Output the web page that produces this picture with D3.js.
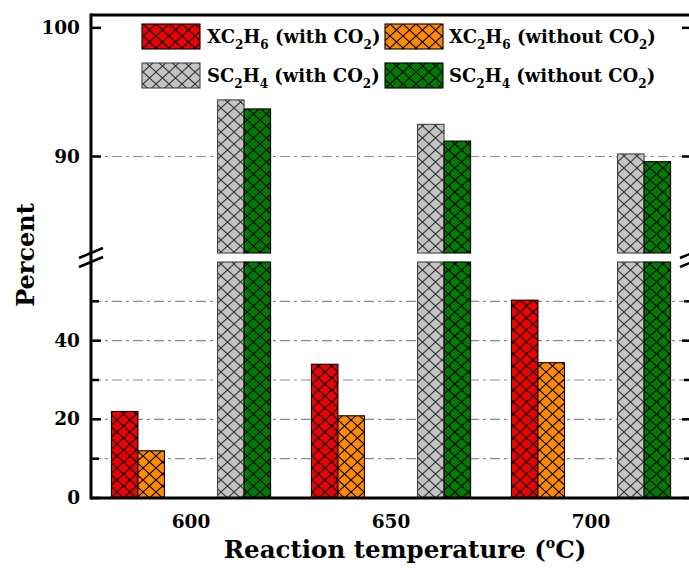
<!DOCTYPE html>
<html>
<head>
<meta charset="utf-8">
<script src="https://cdn.jsdelivr.net/npm/d3@7"></script>
<style>
  body { margin: 0; background: #fff; }
  svg { display: block; }
  text { font-family: "DejaVu Serif", serif; font-weight: bold; fill: #000; }
</style>
</head>
<body>
<script>
// Reaction temperature categories (°C)
var temps = ['600', '650', '700'];

// Series values (percent)
var xWithCO2    = [22.0, 34.0, 50.3];
var xWithoutCO2 = [12.0, 20.9, 34.4];
var sWithCO2    = [94.4, 92.5, 90.2];
var sWithoutCO2 = [93.7, 91.2, 89.6];

// Tick values for the two parts of the broken axis
var lowerTicks = [0, 10, 20, 30, 40, 50];
var lowerLabels = [0, 20, 40];
var upperTicks = [90, 100];
var lowerGrid = [10, 20, 30, 40, 50];
var upperGrid = [90];

// Series definitions (sub slot, colour, legend label pieces)
var seriesKeys = ['xw', 'xwo', 'gap1', 'gap2', 'sw', 'swo'];
var series = [
  { key: 'xw',  values: xWithCO2,    fill: '#ee0000', hatch: '#000',
    label: [['XC'], ['2', 'sub'], ['H'], ['6', 'sub'], [' (with CO'], ['2', 'sub'], [')']] },
  { key: 'xwo', values: xWithoutCO2, fill: '#ff8a00', hatch: '#000',
    label: [['XC'], ['2', 'sub'], ['H'], ['6', 'sub'], [' (without CO'], ['2', 'sub'], [')']] },
  { key: 'sw',  values: sWithCO2,    fill: '#c3c3c3', hatch: '#333',
    label: [['SC'], ['2', 'sub'], ['H'], ['4', 'sub'], [' (with CO'], ['2', 'sub'], [')']] },
  { key: 'swo', values: sWithoutCO2, fill: '#007a00', hatch: '#000',
    label: [['SC'], ['2', 'sub'], ['H'], ['4', 'sub'], ['  (without CO'], ['2', 'sub'], [')']] }
];

var width = 689, height = 570;
var plot = { left: 91, right: 691, top: 15, bottom: 498 };
var breakLow = 262, breakHigh = 253; // pixel edges of the axis break

var svg = d3.select('body').append('svg')
  .attr('width', width)
  .attr('height', height);

// Scales
var x = d3.scaleBand().domain(temps).range([plot.left, plot.right]);
var xs = d3.scaleBand().domain(seriesKeys).range([0, x.bandwidth()]).paddingOuter(0.77);
var yLow = d3.scaleLinear().domain([0, 60]).range([plot.bottom, breakLow]);
var yHigh = d3.scaleLinear().domain([82.5, 101]).range([breakHigh, plot.top]);

// Hatch patterns (crosshatch)
var pw = 13, ph = 12;
var defs = svg.append('defs');
series.forEach(s => {
  let p = defs.append('pattern')
    .attr('id', 'hatch-' + s.key)
    .attr('patternUnits', 'userSpaceOnUse')
    .attr('width', pw).attr('height', ph);
  p.append('rect').attr('width', pw).attr('height', ph).attr('fill', s.fill);
  p.append('path')
    .attr('d', 'M0,0L' + pw + ',' + ph + 'M' + pw + ',0L0,' + ph)
    .attr('stroke', s.hatch)
    .attr('stroke-width', 1.1);
});

// Gridlines (dash-dot)
var gridG = svg.append('g');
function gridLine(y) {
  gridG.append('line')
    .attr('x1', plot.left).attr('x2', plot.right)
    .attr('y1', y).attr('y2', y)
    .attr('stroke', '#8a8a8a')
    .attr('stroke-width', 1.2)
    .attr('stroke-dasharray', '10,4,3,4');
}
lowerGrid.forEach(v => gridLine(yLow(v)));
upperGrid.forEach(v => gridLine(yHigh(v)));

// Bars
var barG = svg.append('g');
series.forEach(s => {
  s.values.forEach((v, i) => {
    let bx = x(temps[i]) + xs(s.key);
    let bw = xs.bandwidth();
    let stroke = s.key == 'sw' ? '#444' : '#000';
    if (v <= 60) {
      barG.append('rect')
        .attr('x', bx).attr('y', yLow(v))
        .attr('width', bw).attr('height', yLow(0) - yLow(v))
        .attr('fill', 'url(#hatch-' + s.key + ')')
        .attr('stroke', stroke).attr('stroke-width', 1.1);
    } else {
      // lower piece up to the break, upper piece from the break to value
      barG.append('rect')
        .attr('x', bx).attr('y', yLow(60))
        .attr('width', bw).attr('height', yLow(0) - yLow(60))
        .attr('fill', 'url(#hatch-' + s.key + ')')
        .attr('stroke', stroke).attr('stroke-width', 1.1);
      barG.append('rect')
        .attr('x', bx).attr('y', yHigh(v))
        .attr('width', bw).attr('height', yHigh(82.5) - yHigh(v))
        .attr('fill', 'url(#hatch-' + s.key + ')')
        .attr('stroke', stroke).attr('stroke-width', 1.1);
    }
  });
});

// Axes frame
var axG = svg.append('g').attr('stroke', '#000').attr('stroke-width', 3);
axG.append('line').attr('x1', plot.left).attr('x2', plot.left).attr('y1', plot.top - 1.5).attr('y2', plot.bottom + 1.5);
axG.append('line').attr('x1', plot.right + 1).attr('x2', plot.right + 1).attr('y1', plot.top - 1.5).attr('y2', plot.bottom + 1.5);
axG.append('line').attr('x1', plot.left).attr('x2', plot.right + 1).attr('y1', plot.top).attr('y2', plot.top);
axG.append('line').attr('x1', plot.left).attr('x2', plot.right + 1).attr('y1', plot.bottom).attr('y2', plot.bottom);

// Ticks (inward, mirrored on the right)
var tickG = svg.append('g').attr('stroke', '#000').attr('stroke-width', 2.5);
function tick(y, len) {
  tickG.append('line').attr('x1', plot.left).attr('x2', plot.left + len).attr('y1', y).attr('y2', y);
  tickG.append('line').attr('x1', plot.right + 1).attr('x2', plot.right + 1 - len).attr('y1', y).attr('y2', y);
}
lowerTicks.forEach(v => tick(yLow(v), lowerLabels.includes(v) ? 10 : 8));
upperTicks.forEach(v => tick(yHigh(v), 10));

// Break marks
function breakMark(cx) {
  [breakHigh, breakLow].forEach(y => {
    svg.append('line')
      .attr('x1', cx - 12).attr('y1', y + 5)
      .attr('x2', cx + 12).attr('y2', y - 5)
      .attr('stroke', '#000').attr('stroke-width', 2.5);
  });
}
breakMark(plot.left);
breakMark(plot.right + 1);

// Tick labels
var labelG = svg.append('g').attr('font-size', 18.5).attr('text-anchor', 'end');
lowerLabels.forEach(v => {
  labelG.append('text').attr('x', 80).attr('y', yLow(v) + 6).text(v);
});
upperTicks.forEach(v => {
  labelG.append('text').attr('x', 80).attr('y', yHigh(v) + 6).text(v);
});
temps.forEach(t => {
  svg.append('text')
    .attr('x', x(t) + x.bandwidth() / 2)
    .attr('y', 528)
    .attr('font-size', 18.5)
    .attr('text-anchor', 'middle')
    .text(t);
});

// Axis titles
svg.append('text')
  .attr('transform', 'translate(34,255) rotate(-90)')
  .attr('text-anchor', 'middle')
  .attr('font-size', 24)
  .text('Percent');

var xt = svg.append('text')
  .attr('x', 405).attr('y', 558)
  .attr('text-anchor', 'middle')
  .attr('font-size', 24.5);
xt.append('tspan').text('Reaction temperature (');
xt.append('tspan').attr('font-size', 14).attr('dy', -10).text('o');
xt.append('tspan').attr('dy', 10).text('C)');

// Legend
function richText(sel, parts) {
  let shift = 0;
  parts.forEach(p => {
    let t = sel.append('tspan').text(p[0]);
    let want = p[1] == 'sub' ? 6 : 0;
    if (p[1] == 'sub') t.attr('font-size', 12);
    t.attr('dy', want - shift);
    shift = want;
  });
}
var legendPos = [
  { sx: 142, tx: 207, y: 24 },
  { sx: 385, tx: 449, y: 24 },
  { sx: 142, tx: 207, y: 63 },
  { sx: 385, tx: 449, y: 63 }
];
series.forEach((s, i) => {
  let pos = legendPos[i];
  svg.append('rect')
    .attr('x', pos.sx).attr('y', pos.y)
    .attr('width', 58).attr('height', 25)
    .attr('fill', 'url(#hatch-' + s.key + ')')
    .attr('stroke', s.key == 'sw' ? '#444' : '#000')
    .attr('stroke-width', 1.1);
  let t = svg.append('text')
    .attr('x', pos.tx).attr('y', pos.y + 19)
    .attr('font-size', 18);
  richText(t, s.label);
});
</script>
</body>
</html>
